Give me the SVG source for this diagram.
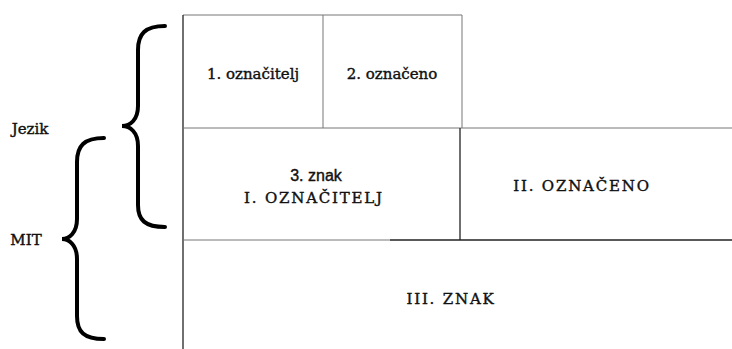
<svg xmlns="http://www.w3.org/2000/svg" width="732" height="349" viewBox="0 0 732 349">
<style>
.t{font-family:"DejaVu Serif","Liberation Serif",serif;fill:#111;stroke:#111;stroke-width:0.4;text-anchor:middle}
.s{font-size:15px}
.c{font-size:15px;letter-spacing:1.8px}
.a{font-family:"Liberation Sans",Arial,sans-serif;font-size:16px}
.l{fill:none;stroke:#777;stroke-width:1}
.d{fill:none;stroke:#222;stroke-width:1.3}
.b{fill:none;stroke:#000;stroke-width:4;stroke-linecap:round}
</style>
<rect width="732" height="349" fill="#fff"/>
<g id="connectors">
<line class="l" x1="183" y1="15" x2="462" y2="15"/>
<line class="d" x1="183" y1="15" x2="183" y2="349"/>
<line class="l" x1="323" y1="15" x2="323" y2="128"/>
<line class="l" x1="462" y1="15" x2="462" y2="128"/>
<line class="l" x1="183" y1="128" x2="732" y2="128"/>
<line class="d" x1="460" y1="128" x2="460" y2="240"/>
<line class="l" x1="183" y1="240" x2="390" y2="240"/>
<line class="d" x1="390" y1="240" x2="732" y2="240"/>
</g>
<g id="brace-jezik">
<path class="b" d="M165,26 C145,26 138,34 138,50 L138,106 C138,120 130,126 122,126 C130,126 138,132 138,146 L138,205 C138,220 145,227 165,227"/>
</g>
<g id="brace-mit">
<path class="b" d="M104,138 C84,138 77,146 77,162 L77,219 C77,233 69,239 62,239 C69,239 77,245 77,259 L77,316 C77,332 84,339 104,339"/>
</g>
<g id="jezik"><text class="t s" x="30" y="134">Jezik</text></g>
<g id="mit"><text class="t s" x="26" y="245">MIT</text></g>
<g id="n1"><text class="t s" x="253" y="79">1. označitelj</text></g>
<g id="n2"><text class="t s" x="392" y="79">2. označeno</text></g>
<g id="n3">
<text class="t a" x="316" y="181">3. znak</text>
<text class="t c" x="314" y="203">I. OZNAČITELJ</text>
</g>
<g id="n4"><text class="t c" x="582" y="191">II. OZNAČENO</text></g>
<g id="n5"><text class="t c" x="451" y="304">III. ZNAK</text></g>
</svg>
